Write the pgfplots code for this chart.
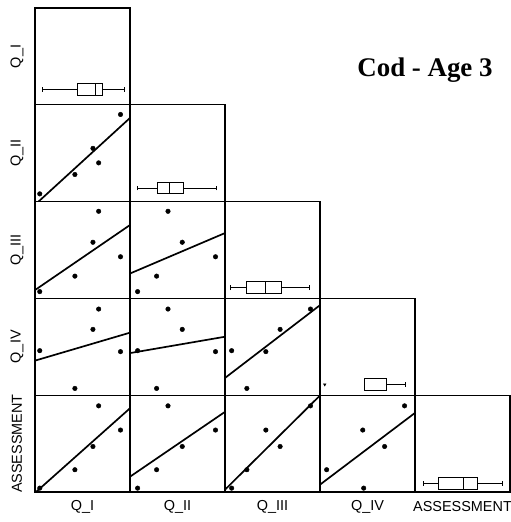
\documentclass[border=0pt]{standalone}
\usepackage{fontspec}
\setmainfont{Liberation Sans}
\newfontfamily\titlefont{Liberation Serif}
\usepackage{pgfplots}
\usepackage{pgfplotstable}
\usepgfplotslibrary{statistics}
\pgfplotsset{compat=1.18}

% five years, values scaled to the panel range
\pgfplotstableread{
q1   q2   q3   q4   as
0.05 0.08 0.07 0.46 0.04
0.42 0.28 0.23 0.07 0.23
0.61 0.55 0.58 0.68 0.47
0.67 0.40 0.90 0.89 0.89
0.90 0.90 0.43 0.45 0.64
}\cod

\pgfplotsset{
  panel/.style={width=95bp, height=96.8bp, scale only axis, anchor=south west,
    xmin=0, xmax=1, ymin=0, ymax=1, xtick=\empty, ytick=\empty,
    axis line style={line width=1.2pt}},
  pts/.style={only marks, mark=*, mark size=2.3pt, black},
  fit/.style={no marks, black, line width=1.7pt},
  bx/.style={black, fill=white, line width=0.9pt},
}

\begin{document}
\begin{tikzpicture}
\path[use as bounding box] (0,0) rectangle (511bp,522bp);

% row 1: Q_I
\begin{axis}[panel, at={(35bp,417.2bp)}]
\addplot[bx, boxplot prepared={draw direction=x, draw position=0.16, box extend=0.12, whisker extend=0.05,
  lower whisker=0.08, lower quartile=0.45, median=0.64, upper quartile=0.71, upper whisker=0.94}] coordinates {};
\end{axis}

% row 2: Q_II
\begin{axis}[panel, at={(35bp,320.4bp)}]
\addplot[pts] table[x=q1,y=q2] {\cod};
\addplot[fit] coordinates {(0,-0.033) (1,0.864)};
\end{axis}
\begin{axis}[panel, at={(130bp,320.4bp)}]
\addplot[bx, boxplot prepared={draw direction=x, draw position=0.14, box extend=0.12, whisker extend=0.05,
  lower whisker=0.08, lower quartile=0.29, median=0.42, upper quartile=0.56, upper whisker=0.91}] coordinates {};
\end{axis}

% row 3: Q_III
\begin{axis}[panel, at={(35bp,223.6bp)}]
\addplot[pts] table[x=q1,y=q3] {\cod};
\addplot[fit] coordinates {(0,0.086) (1,0.758)};
\end{axis}
\begin{axis}[panel, at={(130bp,223.6bp)}]
\addplot[pts] table[x=q2,y=q3] {\cod};
\addplot[fit] coordinates {(0,0.257) (1,0.675)};
\end{axis}
\begin{axis}[panel, at={(225bp,223.6bp)}]
\addplot[bx, boxplot prepared={draw direction=x, draw position=0.11, box extend=0.12, whisker extend=0.05,
  lower whisker=0.06, lower quartile=0.23, median=0.43, upper quartile=0.59, upper whisker=0.89}] coordinates {};
\end{axis}

% row 4: Q_IV
\begin{axis}[panel, at={(35bp,126.8bp)}]
\addplot[pts] table[x=q1,y=q4] {\cod};
\addplot[fit] coordinates {(0,0.357) (1,0.646)};
\end{axis}
\begin{axis}[panel, at={(130bp,126.8bp)}]
\addplot[pts] table[x=q2,y=q4] {\cod};
\addplot[fit] coordinates {(0,0.435) (1,0.604)};
\end{axis}
\begin{axis}[panel, at={(225bp,126.8bp)}]
\addplot[pts] table[x=q3,y=q4] {\cod};
\addplot[fit] coordinates {(0,0.178) (1,0.930)};
\end{axis}
\begin{axis}[panel, at={(320bp,126.8bp)}]
\addplot[bx, boxplot prepared={draw direction=x, draw position=0.11, box extend=0.12, whisker extend=0.05,
  lower whisker=0.47, lower quartile=0.47, median=0.47, upper quartile=0.70, upper whisker=0.90}] coordinates {};
\addplot[only marks, mark=triangle*, mark options={rotate=180}, mark size=1.5pt, black] coordinates {(0.05,0.11)};
\end{axis}

% row 5: ASSESSMENT
\begin{axis}[panel, at={(35bp,30bp)}]
\addplot[pts] table[x=q1,y=as] {\cod};
\addplot[fit] coordinates {(0,-0.009) (1,0.865)};
\end{axis}
\begin{axis}[panel, at={(130bp,30bp)}]
\addplot[pts] table[x=q2,y=as] {\cod};
\addplot[fit] coordinates {(0,0.158) (1,0.828)};
\end{axis}
\begin{axis}[panel, at={(225bp,30bp)}]
\addplot[pts] table[x=q3,y=as] {\cod};
\addplot[fit] coordinates {(0,0.024) (1,0.997)};
\end{axis}
\begin{axis}[panel, at={(320bp,30bp)}]
\addplot[pts] table[x=q4,y=as] {\cod};
\addplot[fit] coordinates {(0,0.076) (1,0.817)};
\end{axis}
\begin{axis}[panel, at={(415bp,30bp)}]
\addplot[bx, boxplot prepared={draw direction=x, draw position=0.09, box extend=0.12, whisker extend=0.05,
  lower whisker=0.09, lower quartile=0.25, median=0.51, upper quartile=0.66, upper whisker=0.92}] coordinates {};
\end{axis}

% variable names
\begin{scope}[every node/.style={font=\fontsize{14.5}{14.5}\selectfont}]
\node[rotate=90] at (17bp,465.6bp) {Q\_I};
\node[rotate=90] at (17bp,368.8bp) {Q\_II};
\node[rotate=90] at (17bp,272bp) {Q\_III};
\node[rotate=90] at (17bp,175.2bp) {Q\_IV};
\node[rotate=90] at (17bp,78.4bp) {ASSESSMENT};
\node at (82.5bp,15bp) {Q\_I};
\node at (177.5bp,15bp) {Q\_II};
\node at (272.5bp,15bp) {Q\_III};
\node at (367.5bp,15bp) {Q\_IV};
\node at (462.5bp,15bp) {ASSESSMENT};
\end{scope}

\node[font=\titlefont\bfseries\fontsize{27}{27}\selectfont] at (425bp,452bp) {Cod - Age 3};
\end{tikzpicture}
\end{document}
